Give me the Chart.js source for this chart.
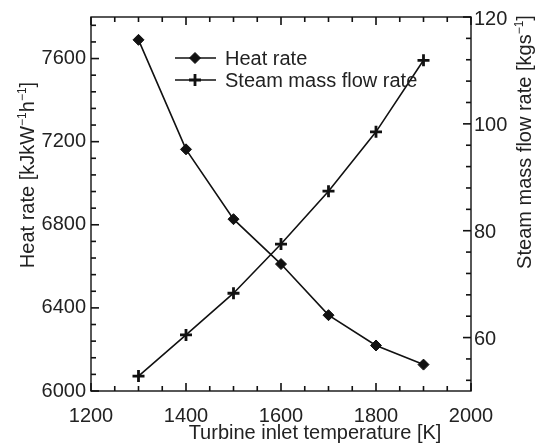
<!DOCTYPE html>
<html>
<head>
<meta charset="utf-8">
<script src="https://cdn.jsdelivr.net/npm/chart.js@4/dist/chart.umd.min.js"></script>
<style>
html,body{margin:0;padding:0;background:#fff;}
canvas{display:block;}
</style>
</head>
<body>
<canvas id="c" width="537" height="445"></canvas>
<script>
// ---- data ----
const temperatures = [1300, 1400, 1500, 1600, 1700, 1800, 1900];
const heatRate = [7690, 7163, 6827, 6611, 6365, 6219, 6127];
const steamFlow = [52.8, 60.5, 68.3, 77.5, 87.4, 98.5, 111.9];
const xTickLabels = [1200, 1400, 1600, 1800, 2000];
const leftTickLabels = [6000, 6400, 6800, 7200, 7600];
const rightTickLabels = [60, 80, 100, 120];
const seriesNames = ['Heat rate', 'Steam mass flow rate'];

const FONT = '"Liberation Sans", Arial, Helvetica, sans-serif';
const TXT = '#222';

function drawRich(ctx, parts, cx, cy, angle, size) {
  ctx.save();
  ctx.translate(cx, cy);
  ctx.rotate(angle);
  ctx.fillStyle = TXT;
  ctx.textBaseline = 'alphabetic';
  ctx.textAlign = 'left';
  let total = 0;
  const widths = parts.map(p => {
    ctx.font = (p.sup ? Math.round(size * 0.62) : size) + 'px ' + FONT;
    const w = ctx.measureText(p.t).width;
    total += w;
    return w;
  });
  let x = -total / 2;
  const base = size * 0.36;
  parts.forEach((p, i) => {
    ctx.font = (p.sup ? Math.round(size * 0.62) : size) + 'px ' + FONT;
    ctx.fillText(p.t, x, p.sup ? base - size * 0.42 : base);
    x += widths[i];
  });
  ctx.restore();
}

function seg(ctx, x1, y1, x2, y2) {
  ctx.beginPath();
  ctx.moveTo(x1, y1);
  ctx.lineTo(x2, y2);
  ctx.stroke();
}

const framePlugin = {
  id: 'frame',
  afterDraw(chart) {
    const ctx = chart.ctx;
    const a = chart.chartArea;
    const xs = chart.scales.x, yl = chart.scales.y, yr = chart.scales.y1;
    ctx.save();
    ctx.strokeStyle = '#111';
    ctx.lineWidth = 1.4;
    ctx.strokeRect(a.left, a.top, a.right - a.left, a.bottom - a.top);
    ctx.lineWidth = 1.6;
    ctx.strokeStyle = '#111';
    for (let v = 1200; v <= 2000; v += 50) {
      const px = xs.getPixelForValue(v);
      const L = (v % 200 === 0) ? 8 : 5;
      ctx.fillStyle = '#111';
      ctx.fillRect(px - 0.8, a.bottom - L, 1.6, L);
      ctx.fillRect(px - 0.8, a.top, 1.6, L);
    }
    for (let v = 6000; v <= 7800; v += 80) {
      const py = yl.getPixelForValue(v);
      const L = (v % 400 === 0) ? 8 : 5;
      ctx.fillRect(a.left, py - 0.8, L, 1.6);
    }
    for (let v = 52; v <= 120; v += 4) {
      const py = yr.getPixelForValue(v);
      const L = (v % 20 === 0) ? 8 : 5;
      ctx.fillRect(a.right - L, py - 0.8, L, 1.6);
    }
    ctx.restore();

    // legend
    const ds = chart.data.datasets;
    const rows = [58, 80];
    ds.forEach((d, i) => {
      const y = rows[i];
      ctx.save();
      ctx.strokeStyle = '#111';
      ctx.fillStyle = '#111';
      ctx.lineWidth = 1.6;
      seg(ctx, 175, y, 216, y);
      ctx.lineWidth = d.pointBorderWidth;
      Chart.helpers.drawPoint(ctx, {
        pointStyle: d.pointStyle, radius: d.pointRadius, rotation: 0,
        borderWidth: d.pointBorderWidth
      }, 195, y);
      ctx.restore();
      ctx.save();
      ctx.fillStyle = TXT;
      ctx.font = '20px ' + FONT;
      ctx.textBaseline = 'middle';
      ctx.textAlign = 'left';
      ctx.fillText(d.label, 225, y + 1);
      ctx.restore();
    });

    // axis titles
    drawRich(ctx, [{t: 'Turbine inlet temperature [K]'}], 315, 432, 0, 20);
    drawRich(ctx, [{t: 'Heat rate [kJkW'}, {t: '\u22121', sup: true}, {t: 'h'}, {t: '\u22121', sup: true}, {t: ']'}], 27, 175, -Math.PI / 2, 20);
    drawRich(ctx, [{t: 'Steam mass flow rate [kgs'}, {t: '\u22121', sup: true}, {t: ']'}], 524, 142, -Math.PI / 2, 20);
  }
};

const chart = new Chart(document.getElementById('c'), {
  type: 'line',
  data: {
    datasets: [
      {
        label: seriesNames[0],
        data: temperatures.map((t, i) => ({x: t, y: heatRate[i]})),
        yAxisID: 'y',
        borderColor: '#111',
        backgroundColor: '#111',
        borderWidth: 1.6,
        pointStyle: 'rectRot',
        pointRadius: 5.5,
        pointBorderWidth: 1,
        pointBackgroundColor: '#111',
        pointBorderColor: '#111',
        tension: 0
      },
      {
        label: seriesNames[1],
        data: temperatures.map((t, i) => ({x: t, y: steamFlow[i]})),
        yAxisID: 'y1',
        borderColor: '#111',
        backgroundColor: '#111',
        borderWidth: 1.6,
        pointStyle: 'cross',
        pointRadius: 6,
        pointBorderWidth: 2.8,
        pointBackgroundColor: '#111',
        pointBorderColor: '#111',
        tension: 0
      }
    ]
  },
  options: {
    responsive: false,
    animation: false,
    devicePixelRatio: 1,
    layout: {padding: {top: 13, left: 0, right: 0, bottom: 0}},
    plugins: {legend: {display: false}, tooltip: {enabled: false}},
    scales: {
      x: {
        type: 'linear', min: 1200, max: 2000,
        grid: {display: false, drawTicks: false},
        border: {display: false},
        afterBuildTicks: s => { s.ticks = xTickLabels.map(v => ({value: v})); },
        afterFit: s => { s.height = 54; },
        ticks: {color: TXT, font: {family: FONT, size: 20}, padding: 13, maxRotation: 0, callback: v => String(v)}
      },
      y: {
        type: 'linear', position: 'left', min: 6000, max: 7800,
        grid: {display: false, drawTicks: false},
        border: {display: false},
        afterBuildTicks: s => { s.ticks = leftTickLabels.map(v => ({value: v})); },
        afterFit: s => { s.width = 91; },
        ticks: {color: TXT, font: {family: FONT, size: 20}, padding: 5, callback: v => String(v)}
      },
      y1: {
        type: 'linear', position: 'right', min: 50, max: 120,
        grid: {display: false, drawTicks: false},
        border: {display: false},
        afterBuildTicks: s => { s.ticks = rightTickLabels.map(v => ({value: v})); },
        afterFit: s => { s.width = 66; },
        ticks: {color: TXT, font: {family: FONT, size: 20}, padding: 3, labelOffset: 2, callback: v => String(v)}
      }
    }
  },
  plugins: [framePlugin]
});
</script>
</body>
</html>
